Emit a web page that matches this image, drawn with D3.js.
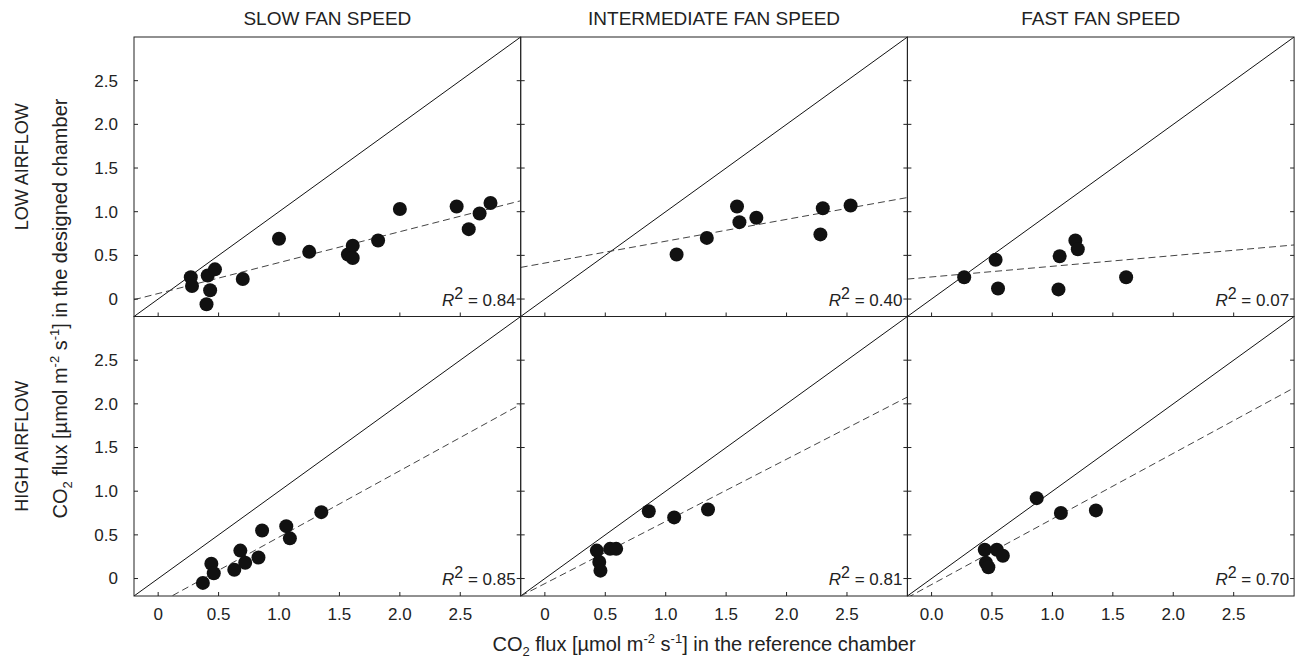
<!DOCTYPE html>
<html lang="en">
<head>
<meta charset="UTF-8">
<title>CO2 flux: designed vs reference chamber</title>
<script src="https://d3js.org/d3.v7.min.js"></script>
<style>
    body { margin: 0; background: #fff; }
    svg { display: block; font-family: "Liberation Sans", Arial, sans-serif; }
    .tick-label { font-size: 17px; fill: #222; }
    .col-title { font-size: 19px; fill: #222; }
    .row-title { font-size: 18px; fill: #222; }
    .axis-title { font-size: 20px; fill: #222; }
</style>
</head>
<body>
<svg width="1300" height="663"></svg>
<script>
// ---- data ----
const colTitles = ["SLOW FAN SPEED", "INTERMEDIATE FAN SPEED", "FAST FAN SPEED"];
const rowTitles = ["LOW AIRFLOW", "HIGH AIRFLOW"];
const tickValues = [0, 0.5, 1, 1.5, 2, 2.5];
const yTickLabels = ["0", "0.5", "1.0", "1.5", "2.0", "2.5"];
const xTickLabels = [
    ["0", "0.5", "1.0", "1.5", "2.0", "2.5"],
    ["0", "0.5", "1.0", "1.5", "2.0", "2.5"],
    ["0.0", "0.5", "1.0", "1.5", "2.0", "2.5"]
];

// [reference, designed] pairs per panel
const lowSlow = [[0.27, 0.25], [0.28, 0.15], [0.41, 0.27], [0.47, 0.34], [0.43, 0.10], [0.40, -0.06],
    [0.70, 0.23], [1.00, 0.69], [1.25, 0.54], [1.57, 0.51], [1.61, 0.61], [1.61, 0.47],
    [1.82, 0.67], [2.00, 1.03], [2.47, 1.06], [2.57, 0.80], [2.66, 0.98], [2.75, 1.10]];
const lowMid = [[1.09, 0.51], [1.34, 0.70], [1.59, 1.06], [1.61, 0.88], [1.75, 0.93],
    [2.28, 0.74], [2.30, 1.04], [2.53, 1.07]];
const lowFast = [[0.27, 0.25], [0.53, 0.45], [0.55, 0.12], [1.06, 0.49], [1.05, 0.11],
    [1.19, 0.67], [1.21, 0.57], [1.61, 0.25]];
const highSlow = [[0.37, -0.05], [0.44, 0.17], [0.46, 0.06], [0.63, 0.10], [0.68, 0.32],
    [0.72, 0.18], [0.83, 0.24], [0.86, 0.55], [1.06, 0.60], [1.09, 0.46], [1.35, 0.76]];
const highMid = [[0.43, 0.32], [0.45, 0.19], [0.46, 0.09], [0.54, 0.34], [0.59, 0.34],
    [0.86, 0.77], [1.07, 0.70], [1.35, 0.79]];
const highFast = [[0.44, 0.33], [0.45, 0.18], [0.47, 0.13], [0.54, 0.33], [0.59, 0.26],
    [0.87, 0.92], [1.07, 0.75], [1.36, 0.78]];

const panelData = [[lowSlow, lowMid, lowFast], [highSlow, highMid, highFast]];
// fitted regression lines: [intercept, slope]
const fitLines = [[[0.063, 0.354], [0.412, 0.250], [0.253, 0.122]],
                  [[-0.286, 0.760], [-0.058, 0.712], [-0.069, 0.751]]];
const r2Labels = [["0.84", "0.40", "0.07"], ["0.85", "0.81", "0.70"]];

// ---- layout ----
const svg = d3.select("svg");
const marginLeft = 134, marginTop = 37, panelW = 386.7, panelH = 279.5;
const domain = [-0.2, 3.0];

for (let r = 0; r < 2; r++) {
    for (let c = 0; c < 3; c++) {
        const x0 = marginLeft + c * panelW, y0 = marginTop + r * panelH;
        const x = d3.scaleLinear().domain(domain).range([x0, x0 + panelW]);
        const y = d3.scaleLinear().domain(domain).range([y0 + panelH, y0]);
        const id = "clip" + r + c;

        svg.append("clipPath").attr("id", id)
            .append("rect")
            .attr("x", x0).attr("y", y0).attr("width", panelW).attr("height", panelH);

        const g = svg.append("g");
        const plot = g.append("g").attr("clip-path", "url(#" + id + ")");

        // 1:1 line
        plot.append("line")
            .attr("x1", x(domain[0])).attr("y1", y(domain[0]))
            .attr("x2", x(domain[1])).attr("y2", y(domain[1]))
            .attr("stroke", "#111").attr("stroke-width", 1);

        // regression line
        const [a, b] = fitLines[r][c];
        plot.append("line")
            .attr("x1", x(domain[0])).attr("y1", y(a + b * domain[0]))
            .attr("x2", x(domain[1])).attr("y2", y(a + b * domain[1]))
            .attr("stroke", "#444").attr("stroke-width", 1)
            .attr("stroke-dasharray", "7,4");

        // points
        plot.selectAll("circle")
            .data(panelData[r][c])
            .enter().append("circle")
            .attr("cx", d => x(d[0]))
            .attr("cy", d => y(d[1]))
            .attr("r", 7)
            .attr("fill", "#111");

        // inward ticks: left, right, bottom
        const tickLen = 4;
        tickValues.forEach(v => {
            g.append("line")
                .attr("x1", x0).attr("x2", x0 + tickLen)
                .attr("y1", y(v)).attr("y2", y(v))
                .attr("stroke", "#222");
            g.append("line")
                .attr("x1", x0 + panelW - tickLen).attr("x2", x0 + panelW)
                .attr("y1", y(v)).attr("y2", y(v))
                .attr("stroke", "#222");
            g.append("line")
                .attr("x1", x(v)).attr("x2", x(v))
                .attr("y1", y0 + panelH - tickLen).attr("y2", y0 + panelH)
                .attr("stroke", "#222");
        });

        // frame
        g.append("rect")
            .attr("x", x0).attr("y", y0).attr("width", panelW).attr("height", panelH)
            .attr("fill", "none").attr("stroke", "#222").attr("stroke-width", 1);

        // R² label
        const rt = g.append("text")
            .attr("class", "tick-label")
            .attr("x", x0 + panelW - 5)
            .attr("y", y0 + panelH - 11)
            .attr("text-anchor", "end");
        rt.append("tspan").style("font-style", "italic").text("R");
        rt.append("tspan").attr("dy", -7).style("font-size", "16px").text("2");
        rt.append("tspan").attr("dy", 7).text(" = " + r2Labels[r][c]);

        // y tick labels on left column
        if (c === 0) {
            tickValues.forEach((v, i) => {
                g.append("text")
                    .attr("class", "tick-label")
                    .attr("x", x0 - 16)
                    .attr("y", y(v))
                    .attr("dy", "0.35em")
                    .attr("text-anchor", "end")
                    .text(yTickLabels[i]);
            });
        }
        // x tick labels on bottom row
        if (r === 1) {
            tickValues.forEach((v, i) => {
                g.append("text")
                    .attr("class", "tick-label")
                    .attr("x", x(v))
                    .attr("y", y0 + panelH + 24)
                    .attr("text-anchor", "middle")
                    .text(xTickLabels[c][i]);
            });
        }
        // column titles
        if (r === 0) {
            svg.append("text")
                .attr("class", "col-title")
                .attr("x", x0 + panelW / 2)
                .attr("y", 25)
                .attr("text-anchor", "middle")
                .text(colTitles[c]);
        }
    }
    // row titles
    svg.append("text")
        .attr("class", "row-title")
        .attr("transform", "translate(28," + (marginTop + r * panelH + panelH / 2 - 10) + ") rotate(-90)")
        .attr("text-anchor", "middle")
        .text(rowTitles[r]);
}

// axis titles with sub/superscripts
function fluxTitle(sel, tail) {
    sel.append("tspan").text("CO");
    sel.append("tspan").attr("dy", 5).style("font-size", "13px").text("2");
    sel.append("tspan").attr("dy", -5).text(" flux [µmol m");
    sel.append("tspan").attr("dy", -8).style("font-size", "13px").text("-2");
    sel.append("tspan").attr("dy", 8).text(" s");
    sel.append("tspan").attr("dy", -8).style("font-size", "13px").text("-1");
    sel.append("tspan").attr("dy", 8).text("] " + tail);
}

const xTitle = svg.append("text")
    .attr("class", "axis-title")
    .attr("x", marginLeft + panelW * 1.5 - 10)
    .attr("y", 651)
    .attr("text-anchor", "middle");
fluxTitle(xTitle, "in the reference chamber");

const yTitle = svg.append("text")
    .attr("class", "axis-title")
    .attr("transform", "translate(67," + (marginTop + panelH - 8) + ") rotate(-90)")
    .attr("text-anchor", "middle");
fluxTitle(yTitle, "in the designed chamber");
</script>
</body>
</html>
